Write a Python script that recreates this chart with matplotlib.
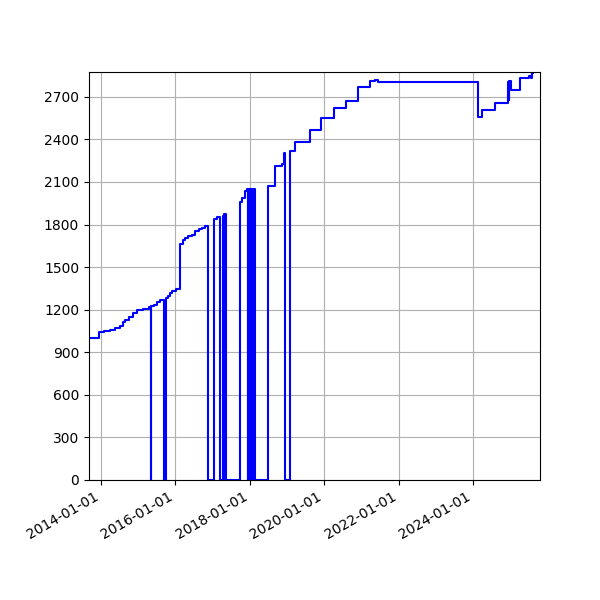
import numpy as np
import pandas as pd
import matplotlib
matplotlib.use("Agg")
import matplotlib.pyplot as plt
import matplotlib.dates as mdates

# dates where the count changes, and the value from that date on
change_dates = [
    "2013-09-07", "2013-12-16", "2014-02-06", "2014-04-06", "2014-05-25",
    "2014-07-14", "2014-08-10", "2014-09-01", "2014-10-10", "2014-11-18",
    "2014-12-27", "2015-02-24", "2015-04-21", "2015-05-09", "2015-05-12",
    "2015-06-12", "2015-07-12", "2015-08-10", "2015-09-19", "2015-10-08",
    "2015-10-28", "2015-11-17", "2015-12-06", "2016-01-09", "2016-02-22",
    "2016-03-22", "2016-04-11", "2016-05-08", "2016-06-19", "2016-07-18",
    "2016-08-27", "2016-09-25", "2016-10-24", "2016-11-18", "2017-01-16",
    "2017-02-19", "2017-03-18", "2017-04-12", "2017-04-20", "2017-04-29",
    "2017-05-19", "2017-09-24", "2017-10-17", "2017-11-13", "2017-12-02",
    "2017-12-12", "2017-12-20", "2018-01-01", "2018-01-10", "2018-01-25",
    "2018-02-05", "2018-02-19", "2018-06-27", "2018-09-03", "2018-11-11",
    "2018-12-01", "2018-12-10", "2019-02-03", "2019-03-19", "2019-08-13",
    "2019-12-06", "2020-04-05", "2020-08-01", "2020-11-30", "2021-03-24",
    "2021-05-12", "2021-06-11", "2024-02-14", "2024-03-25", "2024-08-02",
    "2024-12-08", "2024-12-16", "2024-12-22", "2025-01-07", "2025-04-05",
    "2025-07-07", "2025-07-20", "2025-07-30", "2025-08-14",
]
values = [
    1000, 1045, 1050, 1057, 1070,
    1085, 1110, 1128, 1150, 1175,
    1195, 1205, 1222, 0, 1225,
    1232, 1255, 1270, 0, 1285,
    1300, 1315, 1332, 1345, 1665,
    1692, 1708, 1716, 1727, 1755,
    1770, 1779, 1790, 0, 1840,
    1850, 0, 1860, 0, 1875,
    0, 1962, 1986, 2033, 2050,
    0, 2050, 0, 2050, 0,
    2050, 0, 2070, 2214, 2225,
    2307, 0, 2315, 2385, 2463,
    2550, 2620, 2672, 2766, 2815,
    2822, 2808, 2561, 2608, 2658,
    2805, 2680, 2810, 2750, 2832,
    2850, 2835, 2870, 2870,
]

x = pd.to_datetime(change_dates)

fig, ax = plt.subplots(figsize=(6, 6), dpi=100)
ax.plot(x, values, color="blue", drawstyle="steps-post", linewidth=1.5)
ax.grid(True)
ax.set_xlim(pd.Timestamp("2013-09-07"), pd.Timestamp("2025-10-18"))
ax.set_ylim(0, 2875)
ax.set_yticks(np.arange(0, 2701, 300))
ax.xaxis.set_major_locator(mdates.YearLocator(2))
ax.xaxis.set_major_formatter(mdates.DateFormatter("%Y-%m-%d"))
fig.autofmt_xdate()
fig.subplots_adjust(left=0.148, right=0.9, top=0.88, bottom=0.2)
fig.savefig("out.png")
